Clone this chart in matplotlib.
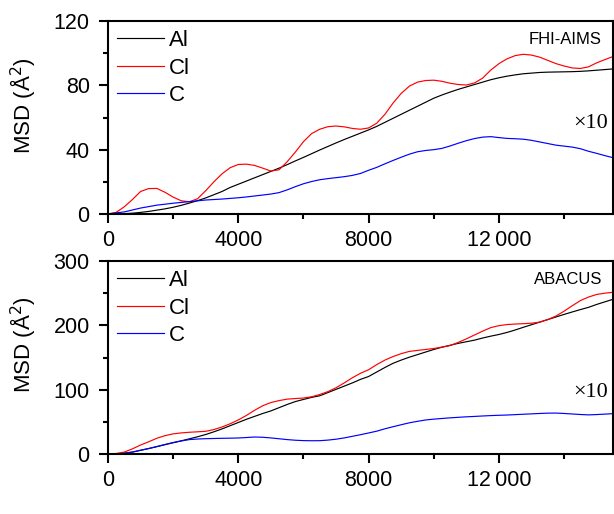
import matplotlib
matplotlib.use("Agg")
import matplotlib.pyplot as plt
from matplotlib.ticker import MultipleLocator

plt.rcParams['font.family'] = ['Liberation Sans', 'DejaVu Sans']

time = list(range(0, 15750, 250))

# FHI-AIMS panel (C multiplied by 10)
aims_al = [0, 0.1, 0.2, 0.5, 1, 1.6, 2.4, 3.2, 4.2, 5.4, 6.8, 8.3, 10, 12, 14, 16.5,
           18.5, 20.5, 22.5, 24.5, 26.5, 28.5, 30.7, 33, 35.2, 37.5, 39.8, 42, 44.2, 46.3, 48.3, 50.3,
           52.3, 54.5, 57, 59.5, 62, 64.5, 67, 69.5, 72, 74, 75.8, 77.5, 79, 80.5, 82, 83.5,
           84.7, 85.7, 86.5, 87.2, 87.6, 88, 88.2, 88.3, 88.4, 88.5, 88.7, 89, 89.4, 89.8, 90.2]
aims_cl = [0, 1, 4.5, 9, 14, 15.8, 15.9, 13.5, 10.5, 8.2, 7.6, 9.5, 14.5, 20, 25, 28.8,
           30.8, 31, 30.2, 28.5, 26.7, 27.5, 32.5, 38.5, 45, 50, 52.7, 54.3, 54.7, 54.2, 53.2, 52.7,
           53.5, 56.5, 62, 69, 75, 79.5, 82, 83, 83.2, 82.5, 81.3, 80.5, 80.2, 81.5, 84.5, 89.5,
           93.5, 96.5, 98.5, 99.3, 98.8, 97.5, 95.5, 93.5, 92, 90.8, 90.5, 91.5, 94, 96, 97.9]
aims_c = [0, 0.7, 1.3, 2.5, 3.7, 4.6, 5.5, 6.1, 6.7, 7.2, 7.7, 8.2, 8.7, 9, 9.3, 9.7,
          10.1, 10.6, 11.2, 11.8, 12.4, 13.3, 15, 17, 18.8, 20.2, 21.3, 22, 22.6, 23.2, 24, 25.2,
          27.2, 29, 31.2, 33.3, 35.3, 37.2, 38.7, 39.5, 40, 40.8, 42.3, 44, 45.6, 46.9, 47.8, 48.1,
          47.5, 47, 46.8, 46.5, 45.8, 44.8, 43.8, 42.8, 42.2, 41.6, 40.6, 39, 37.7, 36.3, 35]

# ABACUS panel (C multiplied by 10)
abacus_al = [0, 0.3, 1.2, 3, 5.8, 8.5, 11.5, 14.5, 17.5, 20.5, 23.6, 26.8, 30.3, 34.5, 39, 44,
             49, 54, 58.5, 63, 67, 72, 77, 81.5, 84.8, 88, 90.5, 95.5, 100.5, 105.5, 110.5, 116,
             120.5, 127.5, 134.5, 141, 146, 150.5, 154.5, 158.5, 162.5, 166, 169, 172, 174.5, 177, 180.3, 183.2,
             185.8, 189, 192.8, 197, 201, 205, 209, 213, 217, 220.8, 224.5, 228, 232.5, 236.5, 240.5]
abacus_cl = [0, 0.8, 3, 8, 14, 19, 24.5, 28.5, 31.3, 32.8, 33.8, 34.5, 35.3, 38, 42, 47,
             53, 60, 68, 75, 80, 83, 85.3, 86.2, 87, 89, 92.5, 97, 103, 110.5, 118.5, 125.5,
             131, 139, 146, 151.5, 156, 159.5, 161, 162.5, 164, 166.2, 168.5, 173.5, 179, 185, 191, 196.5,
             199.5, 201.2, 202, 202.6, 203.3, 205, 209, 214.5, 222, 230.5, 238.5, 244, 248, 250, 251.3]
abacus_c = [0, 0.3, 1.2, 3, 5.8, 8.5, 11.5, 14.8, 17.8, 20.3, 22.4, 23.3, 23.8, 24.1, 24.4, 24.6,
            24.9, 25.6, 26.4, 26, 25, 23.7, 22.4, 21.4, 20.8, 20.6, 20.7, 21.6, 23, 25, 27.5, 30,
            32.7, 35.5, 39.2, 42.4, 45.5, 48.5, 50.8, 52.9, 54.2, 55.2, 56.2, 57, 57.8, 58.4, 59.1, 59.7,
            60.2, 60.6, 61.2, 61.8, 62.4, 63, 63.5, 63.6, 63, 62.2, 61.4, 60.8, 61.3, 62, 62.7]

species = ['Al', 'Cl', 'C']
colors = ['black', 'red', 'blue']

W, H = 614, 514
fig = plt.figure(figsize=(W / 100, H / 100), dpi=100)


def fmt(v):
    v = int(round(v))
    return f"{v}" if v < 10000 else f"{v // 1000}\u2009{v % 1000:03d}"


def add_panel(top, bottom, series, ymax, ymajor, yminor, label, label_y):
    ax = fig.add_axes([108 / W, 1 - bottom / H, (613 - 108) / W, (bottom - top) / H])
    for s, c, name in zip(series, colors, species):
        ax.plot(time[:len(s)], s, color=c, lw=0.85, label=name)
    ax.set_xlim(0, 15500)
    ax.set_ylim(0, ymax)
    ax.xaxis.set_major_locator(MultipleLocator(4000))
    ax.xaxis.set_minor_locator(MultipleLocator(2000))
    ax.yaxis.set_major_locator(MultipleLocator(ymajor))
    ax.yaxis.set_minor_locator(MultipleLocator(yminor))
    ax.tick_params(which='major', direction='out', length=6.2, width=1.5, labelsize=15.5)
    ax.tick_params(axis='x', which='major', pad=5)
    ax.tick_params(axis='y', which='major', pad=7)
    ax.tick_params(which='minor', direction='out', length=3.8, width=1.5)
    ax.tick_params(top=False, right=False, which='both')
    for sp in ax.spines.values():
        sp.set_linewidth(1.5)
    ax.set_xticks(ax.get_xticks())
    ax.set_xticklabels([fmt(v) for v in ax.get_xticks()])
    ax.set_xlim(0, 15500)
    ax.set_ylabel('MSD (Å$^2$)', fontsize=16)
    ax.yaxis.set_label_coords(-0.139, label_y)
    ax.legend(loc='upper left', frameon=False, fontsize=16, handlelength=2.1,
              handletextpad=0.25, labelspacing=0.3, borderaxespad=0.15, borderpad=0.25)
    ax.text(0.978, 0.905, label, transform=ax.transAxes, ha='right', va='center', fontsize=12)
    return ax


ax1 = add_panel(21, 214, [aims_al, aims_cl, aims_c], 120, 40, 20, 'FHI-AIMS', 0.56)
ax1.text(0.99, 0.47, '×10', transform=ax1.transAxes, ha='right', va='center',
         fontsize=16, family=['Liberation Serif', 'DejaVu Serif'])
ax2 = add_panel(261, 454, [abacus_al, abacus_cl, abacus_c], 300, 100, 50, 'ABACUS', 0.565)
ax2.text(0.99, 0.318, '×10', transform=ax2.transAxes, ha='right', va='center',
         fontsize=16, family=['Liberation Serif', 'DejaVu Serif'])

fig.savefig('out.png', dpi=100)
